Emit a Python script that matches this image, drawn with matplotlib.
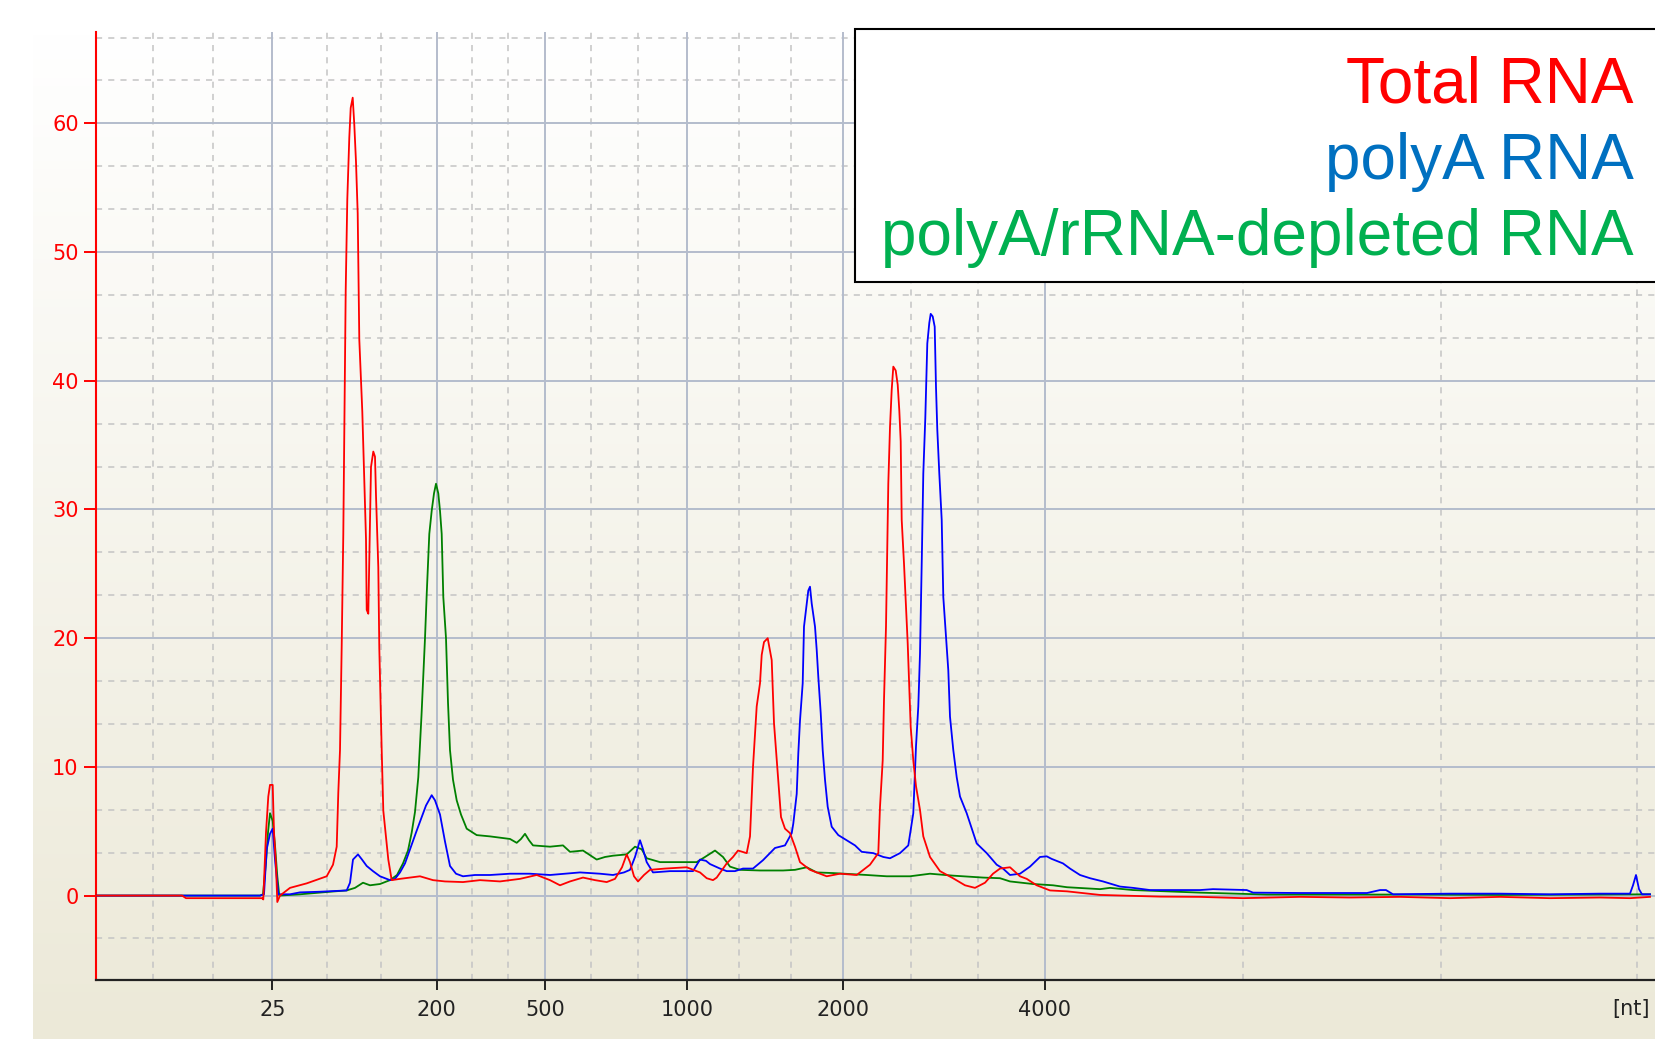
import numpy as np
import matplotlib
matplotlib.use("Agg")
import matplotlib.pyplot as plt
from matplotlib.patches import Rectangle

# ---------------- data (migration time, arbitrary units; fluorescence units) -------------
size_labels = ["25", "200", "500", "1000", "2000", "4000"]
size_ticks = [27.23, 43.67, 54.5, 68.67, 84.33, 104.5]
minor_ticks = [15.33, 21.3, 32.67, 38.07, 47.23, 50.77, 59.1, 63.77, 73.9, 79.1,
               91.07, 97.77, 124.33, 144.07, 163.67]
y_ticks = [0, 10, 20, 30, 40, 50, 60]

total_t = [9.6, 15.0, 18.2, 18.6, 26.2, 26.33, 26.6, 26.83, 27.0, 27.27, 27.4, 27.6, 27.73,
           28.0, 29.0, 30.67, 32.67, 33.3, 33.67, 33.83, 34.0, 34.17, 34.33, 34.57, 34.73,
           34.93, 35.07, 35.27, 35.43, 35.6, 35.77, 35.93, 36.23, 36.43, 36.6, 36.67, 36.83,
           36.93, 37.1, 37.33, 37.5, 37.6, 37.83, 37.93, 38.17, 38.33, 38.83, 39.17, 40.0,
           41.0, 42.0, 43.3, 44.5, 46.3, 48.0, 50.0, 52.0, 53.67, 55.0, 56.0, 57.0, 58.3,
           59.5, 60.67, 61.5, 62.2, 62.67, 63.0, 63.4, 63.8, 64.4, 65.0, 66.5, 68.67, 70.0,
           70.67, 71.3, 71.67, 72.67, 73.3, 73.8, 74.67, 75.0, 75.3, 75.67, 76.0, 76.17,
           76.4, 76.77, 77.17, 77.4, 77.8, 78.1, 78.5, 79.0, 79.5, 80.0, 81.0, 82.67, 84.0,
           85.67, 87.0, 87.83, 88.0, 88.27, 88.4, 88.6, 88.83, 89.0, 89.17, 89.33, 89.57,
           89.77, 89.93, 90.07, 90.17, 90.4, 90.6, 90.77, 90.93, 91.07, 91.33, 91.6, 92.0,
           92.33, 93.0, 94.0, 95.3, 96.5, 97.5, 98.5, 99.3, 100.0, 101.0, 102.0, 102.67,
           103.67, 105.0, 106.7, 110.0, 116.0, 120.0, 124.3, 130.0, 135.0, 140.0, 145.0,
           150.0, 155.0, 160.0, 163.0, 165.0]
total_v = [0, 0, 0, -0.2, -0.2, -0.3, 4.9, 7.7, 8.6, 8.6, 4.9, 2.3, -0.5,
           0, 0.6, 0.95, 1.5, 2.4, 3.8, 8.0, 11.3, 19.4, 28.1, 47, 54.1,
           58.9, 61.2, 62, 59.9, 57, 53, 43.2, 37.6, 32.4, 27.7, 22.2, 21.9,
           26.2, 33.3, 34.5, 34.1, 31.1, 25.5, 19.2, 11.3, 6.6, 2.8, 1.2, 1.3,
           1.4, 1.5, 1.2, 1.1, 1.05, 1.2, 1.1, 1.3, 1.6, 1.2, 0.8, 1.1, 1.4,
           1.2, 1.05, 1.3, 2.2, 3.2, 2.6, 1.5, 1.1, 1.6, 2.0, 2.1, 2.2, 1.8,
           1.35, 1.2, 1.4, 2.5, 3.0, 3.5, 3.3, 4.6, 10, 14.7, 16.5, 18.7,
           19.7, 20, 18.3, 13.4, 9.2, 6.1, 5.2, 4.85, 3.8, 2.6, 2.0, 1.5, 1.7,
           1.6, 2.4, 3.3, 6.9, 10.5, 15.2, 20.9, 32, 36.4, 39.3, 41.1, 40.8,
           39.7, 37.7, 35.3, 29.2, 25.8, 22.4, 19.6, 16, 13.1, 10.5, 8.5, 6.65,
           4.6, 3.0, 1.9, 1.35, 0.8, 0.6, 1.0, 1.7, 2.1, 2.2, 1.5, 1.3,
           0.8, 0.4, 0.33, 0.05, -0.08, -0.1, -0.2, -0.1, -0.15, -0.1, -0.2,
           -0.1, -0.2, -0.15, -0.2, -0.1]

polya_t = [9.6, 13.7, 26.0, 26.4, 26.67, 27.0, 27.27, 27.5, 27.83, 29.0, 30.0, 32.0, 34.67,
           35.0, 35.3, 35.8, 36.2, 36.67, 37.3, 38.0, 39.0, 39.5, 40.0, 40.5, 41.0, 41.6,
           42.17, 42.6, 43.17, 43.5, 44.0, 44.5, 45.0, 45.6, 46.3, 47.5, 49.0, 51.0, 53.0,
           55.0, 56.5, 58.0, 60.0, 61.3, 62.4, 63.0, 63.5, 64.0, 64.3, 64.67, 65.3, 67.0,
           69.3, 70.0, 70.6, 71.0, 72.0, 72.67, 73.5, 74.3, 75.3, 76.3, 77.5, 78.5, 79.17,
           79.33, 79.67, 79.83, 80.0, 80.27, 80.4, 80.67, 80.83, 81.0, 81.17, 81.5, 81.67,
           81.83, 82.07, 82.27, 82.5, 82.77, 83.17, 83.83, 84.67, 85.5, 86.17, 87.33, 88.33,
           89.0, 90.0, 90.83, 91.33, 91.6, 91.83, 92.0, 92.2, 92.33, 92.53, 92.73, 92.93,
           93.07, 93.27, 93.47, 93.6, 93.73, 93.93, 94.17, 94.33, 94.6, 94.83, 95.0, 95.33,
           95.67, 96.0, 96.67, 97.67, 98.67, 99.67, 100.3, 101.0, 102.0, 103.0, 104.0,
           104.67, 105.17, 106.3, 107.0, 108.0, 109.0, 110.3, 112.0, 113.3, 115.0, 120.0,
           121.3, 124.67, 125.3, 130.0, 136.7, 138.0, 138.6, 139.3, 145.0, 150.0, 155.0,
           160.0, 163.0, 163.3, 163.6, 163.9, 164.2, 165.0]
polya_v = [0, 0, 0, 0.1, 3.6, 4.8, 5.2, 2.8, 0.1, 0.1, 0.25, 0.3, 0.4,
           1.0, 2.8, 3.2, 2.8, 2.3, 1.9, 1.5, 1.2, 1.3, 1.8, 2.5, 3.6, 4.9,
           6.1, 7.0, 7.8, 7.4, 6.3, 4.2, 2.3, 1.7, 1.5, 1.6, 1.6, 1.7, 1.7,
           1.6, 1.7, 1.8, 1.7, 1.6, 1.8, 2.0, 3.0, 4.3, 3.6, 2.6, 1.8, 1.9,
           1.9, 2.8, 2.7, 2.45, 2.1, 1.9, 1.9, 2.1, 2.1, 2.75, 3.7, 3.9, 4.85,
           5.6, 7.9, 11.05, 13.6, 16.5, 20.9, 22.7, 23.7, 24, 22.7, 20.9, 19.1,
           17.0, 14.2, 11.3, 9.0, 6.9, 5.35, 4.7, 4.3, 3.9, 3.4, 3.3, 3.0,
           2.9, 3.3, 3.9, 6.4, 11.6, 14.7, 18.8, 27, 32.8, 37.1, 42.9, 44.5,
           45.2, 45.0, 44.2, 39.5, 36.2, 32.8, 29.2, 23.2, 20.1, 17.5, 13.9, 11.3,
           9.2, 7.7, 6.4, 4.05, 3.3, 2.4, 2.1, 1.6, 1.7, 2.25, 3.0,
           3.05, 2.85, 2.5, 2.1, 1.6, 1.35, 1.1, 0.7, 0.6, 0.43, 0.43,
           0.5, 0.43, 0.23, 0.2, 0.2, 0.43, 0.43, 0.1, 0.15, 0.15, 0.1,
           0.15, 0.15, 0.8, 1.6, 0.5, 0.1, 0.1]

dep_t = [9.6, 26.0, 26.3, 26.6, 26.8, 27.0, 27.27, 27.5, 27.73, 27.93, 30.0, 33.0, 34.67,
         35.5, 36.3, 37.0, 38.0, 39.0, 39.7, 40.3, 40.8, 41.17, 41.5, 41.83, 42.15, 42.5,
         42.67, 42.93, 43.17, 43.4, 43.6, 43.83, 44.0, 44.17, 44.33, 44.6, 44.8, 45.0, 45.3,
         45.67, 46.1, 46.67, 47.67, 49.0, 50.0, 51.0, 51.67, 52.1, 52.5, 52.9, 53.3, 55.0,
         56.3, 57.0, 58.3, 59.67, 60.5, 61.3, 62.67, 63.5, 64.17, 64.67, 66.0, 68.0, 69.67,
         70.5, 71.5, 72.3, 73.0, 74.0, 76.0, 78.3, 79.5, 80.67, 81.67, 83.3, 86.67, 88.67,
         91.0, 93.0, 95.3, 98.3, 100.0, 101.0, 103.3, 105.3, 106.7, 110.0, 111.0, 113.3,
         120.0, 126.7, 140.0, 150.0, 160.0, 165.0]
dep_v = [0, 0, 0.1, 2.6, 4.9, 6.4, 5.8, 3.9, 1.5, 0, 0.1, 0.3, 0.4,
         0.6, 1.0, 0.8, 0.9, 1.2, 1.6, 2.5, 3.5, 4.9, 6.5, 9.2, 14, 20,
         23.4, 28.1, 29.9, 31.25, 32, 31.25, 29.9, 28.1, 23.2, 20, 15, 11.3, 9,
         7.4, 6.3, 5.2, 4.7, 4.6, 4.5, 4.4, 4.1, 4.4, 4.8, 4.3, 3.9, 3.8,
         3.9, 3.4, 3.5, 2.8, 3.0, 3.1, 3.2, 3.8, 3.6, 2.9, 2.6, 2.6, 2.6,
         3.0, 3.5, 3.0, 2.25, 2.0, 1.95, 1.95, 2.0, 2.2, 1.8, 1.75, 1.6, 1.5,
         1.5, 1.7, 1.55, 1.4, 1.35, 1.1, 0.9, 0.8, 0.65, 0.5, 0.6, 0.43,
         0.23, 0.08, 0.08, 0.05, 0.08, 0.1]

series_names = ["Total RNA", "polyA RNA", "polyA/rRNA-depleted RNA"]
trace_colors = ["#FF0000", "#0000FF", "#008000"]
label_colors = ["#FF0000", "#0070C0", "#00B050"]

# ---------------- figure ---------------------------------------------------------------
W, H = 1655, 1039
fig = plt.figure(figsize=(W / 100, H / 100), dpi=100, facecolor="white")

def fx(px):
    return px / W

def fy(py):
    return 1 - py / H

# gradient background panel
bg = fig.add_axes([fx(33), 0, 1 - fx(33), fy(31)])
top = np.array([255, 255, 255]) / 255
bot = np.array([0xEC, 0xE9, 0xD8]) / 255
t = np.linspace(0, 1, 256)[:, None]
grad = top[None, None, :] * (1 - t[:, :, None]) + bot[None, None, :] * t[:, :, None]
bg.imshow(grad, aspect="auto", extent=[0, 1, 0, 1], origin="upper")
bg.set_axis_off()
bg.set_zorder(0)

ax = fig.add_axes([fx(96), fy(979.5), fx(1700 - 96), (979.5 - 31.5) / H])
ax.set_zorder(1)
ax.patch.set_visible(False)
ax.set_xlim(9.6, 170.0)
ax.set_ylim(-6.52, 67.14)

# grid
for xm in minor_ticks:
    ax.axvline(xm, color="#C4C4C4", lw=1.1, ls=(0, (4, 4)), zorder=1)
for ym in np.arange(-20, 70, 10):
    for off in (10 / 3, 20 / 3):
        ax.axhline(ym + off, color="#C4C4C4", lw=1.1, ls=(0, (4, 4)), zorder=1)
for xm in size_ticks:
    ax.axvline(xm, color="#B4BCCC", lw=1.4, zorder=1.5)
for yv in y_ticks:
    ax.axhline(yv, color="#B4BCCC", lw=1.4, zorder=1.5)

# traces
for tt, vv, c in [(dep_t, dep_v, trace_colors[2]), (polya_t, polya_v, trace_colors[1]),
                  (total_t, total_v, trace_colors[0])]:
    ax.plot(tt, vv, color=c, lw=1.3, zorder=3)

# axes styling
for s in ("top", "right"):
    ax.spines[s].set_visible(False)
ax.spines["left"].set_color("#FF0000")
ax.spines["left"].set_linewidth(1.5)
ax.spines["bottom"].set_color("#222222")
ax.spines["bottom"].set_linewidth(1.6)
ax.set_yticks(y_ticks)
ax.set_yticklabels([str(v) for v in y_ticks])
ax.set_xticks(size_ticks)
ax.set_xticklabels(size_labels)
ax.tick_params(axis="y", colors="#FF0000", length=8.5, width=1.4, pad=4, labelsize=15)
ax.tick_params(axis="x", colors="#222222", length=7, width=1.4, pad=8, labelsize=15)

fig.text(fx(1650), fy(1009), "[nt]", ha="right", va="center", fontsize=15, color="#222222")

# label box
box = Rectangle((fx(855), fy(282)), 0.6, (282 - 29.5) / H, transform=fig.transFigure,
                facecolor="white", edgecolor="black", lw=1.5, zorder=5)
fig.add_artist(box)
for name, col, base in zip(series_names, label_colors, [102.4, 179.4, 255.4]):
    fig.text(fx(1634), fy(base), name, ha="right", va="baseline", fontsize=46,
             family="Liberation Sans", color=col, zorder=6)

fig.savefig("out.png", dpi=100)
